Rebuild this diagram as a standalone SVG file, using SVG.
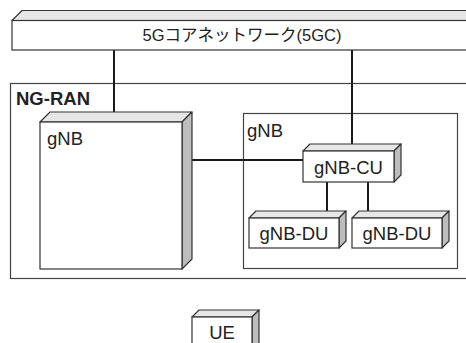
<svg xmlns="http://www.w3.org/2000/svg" width="466" height="343" viewBox="0 0 466 343">
<style>
.front{fill:#fff;stroke:#333;stroke-width:1.2}
.top{fill:#e6e6e6;stroke:#333;stroke-width:1.2;stroke-linejoin:round}
.side{fill:#bdbdbd;stroke:#333;stroke-width:1.2;stroke-linejoin:round}
.frame{fill:none;stroke:#444;stroke-width:1.2}
.conn{stroke:#1a1a1a;stroke-width:2;fill:none}
text{font-family:"Liberation Sans","Noto Sans CJK JP",sans-serif;fill:#222}
.lbl{font-size:18.5px}
.title{font-size:16.5px}
.bold{font-size:18.5px;font-weight:bold}
</style>
<rect width="466" height="343" fill="#fff"/>
<g id="ngran">
<rect class="frame" x="10.5" y="83.5" width="470" height="195"/>
<text class="bold" x="16" y="105">NG-RAN</text>
</g>
<g id="gnb-frame">
<rect class="frame" x="243.5" y="113.5" width="214" height="155"/>
<text class="lbl" x="247" y="137">gNB</text>
</g>
<g id="connectors">
<line class="conn" x1="114" y1="50" x2="114" y2="117"/>
<line class="conn" x1="352" y1="50" x2="352" y2="148"/>
<line class="conn" x1="192" y1="160" x2="303" y2="160"/>
<line class="conn" x1="327" y1="182" x2="327" y2="216"/>
<line class="conn" x1="368" y1="182" x2="368" y2="216"/>
</g>
<g id="core">
<polygon class="top" points="12,20.5 22,10.5 480,10.5 480,20.5"/>
<rect class="front" x="12" y="20.5" width="470" height="29.5"/>
<text class="title" x="242" y="41" text-anchor="middle">5Gコアネットワーク(5GC)</text>
</g>
<g id="gnb">
<polygon class="top" points="40,122 50,112 192,112 182,122"/>
<polygon class="side" points="182,122 192,112 192,259 182,269"/>
<rect class="front" x="40" y="122" width="142" height="147"/>
<text class="lbl" x="47" y="145">gNB</text>
</g>
<g id="gnb-cu">
<polygon class="top" points="303,151 310,144 401,144 394,151"/>
<polygon class="side" points="394,151 401,144 401,175 394,182"/>
<rect class="front" x="303" y="151" width="91" height="31"/>
<text class="lbl" x="348.5" y="174" text-anchor="middle">gNB-CU</text>
</g>
<g id="gnb-du1">
<polygon class="top" points="249,218 256,211 346,211 339,218"/>
<polygon class="side" points="339,218 346,211 346,241 339,248"/>
<rect class="front" x="249" y="218" width="90" height="30"/>
<text class="lbl" x="294" y="240" text-anchor="middle">gNB-DU</text>
</g>
<g id="gnb-du2">
<polygon class="top" points="352,218 359,211 449,211 442,218"/>
<polygon class="side" points="442,218 449,211 449,241 442,248"/>
<rect class="front" x="352" y="218" width="90" height="30"/>
<text class="lbl" x="397" y="240" text-anchor="middle">gNB-DU</text>
</g>
<g id="ue">
<polygon class="top" points="192,317 199,310 259,310 252,317"/>
<polygon class="side" points="252,317 259,310 259,345 252,350"/>
<rect class="front" x="192" y="317" width="60" height="33"/>
<text class="lbl" x="222" y="339" text-anchor="middle">UE</text>
</g>
</svg>
